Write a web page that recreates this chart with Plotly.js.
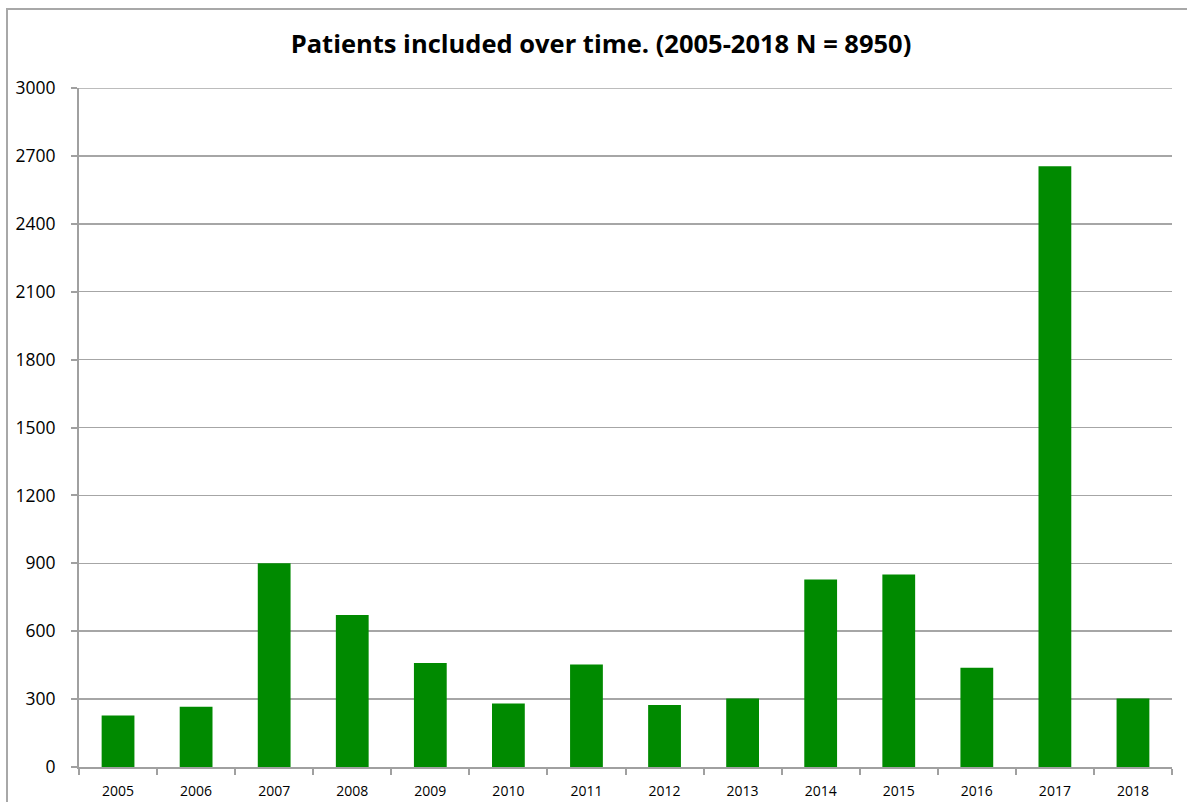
<!DOCTYPE html>
<html>
<head>
<meta charset="utf-8">
<script src="https://cdn.plot.ly/plotly-3.0.1.min.js"></script>
<style>
html,body{margin:0;padding:0;background:#fff;}
#chart{width:1187px;height:802px;}
</style>
</head>
<body>
<div id="chart"></div>
<script>
const years = ["2005","2006","2007","2008","2009","2010","2011","2012","2013","2014","2015","2016","2017","2018"];
const patients = [228, 266, 900, 672, 460, 281, 453, 274, 303, 828, 851, 438, 2654, 303];
const yTicks = [0, 300, 600, 900, 1200, 1500, 1800, 2100, 2400, 2700, 3000];
const chartTitle = "Patients included over time. (2005-2018 N = 8950)";
const yMax = yTicks[yTicks.length - 1];

const trace = {
  type: "bar",
  x: years,
  y: patients,
  marker: {color: "#008a00", line: {width: 0}},
  hoverinfo: "x+y"
};

const layout = {
  width: 1187,
  height: 802,
  margin: {l: 79, r: 15, t: 88, b: 35},
  paper_bgcolor: "#ffffff",
  plot_bgcolor: "#ffffff",
  showlegend: false,
  bargap: 0.58,
  font: {family: "Open Sans, sans-serif", color: "#000"},
  title: {
    text: "<b>" + chartTitle + "</b>",
    font: {family: "Open Sans, sans-serif", size: 25.5, color: "#000"},
    x: 601 / 1187, xanchor: "center", xref: "container",
    y: 49, yref: "container", yanchor: "middle"
  },
  xaxis: {
    type: "category",
    showline: true, linecolor: "#a0a0a0", linewidth: 2,
    ticks: "outside", tickson: "boundaries", ticklen: 6, tickcolor: "#a0a0a0", tickwidth: 2,
    showgrid: false,
    tickfont: {size: 14, color: "#000"},
    ticklabelstandoff: 10,
    fixedrange: true
  },
  yaxis: {
    range: [0, yMax],
    tickvals: yTicks,
    ticktext: yTicks.map(String),
    showline: true, linecolor: "#a0a0a0", linewidth: 2,
    ticks: "outside", ticklen: 6, tickcolor: "#a0a0a0", tickwidth: 2,
    showgrid: true, gridcolor: "#a6a6a6", gridwidth: 1.5,
    zeroline: false,
    tickfont: {size: 17.5, color: "#000"},
    ticklabelstandoff: 12,
    fixedrange: true
  },
  shapes: [{
    type: "rect", xref: "paper", yref: "paper",
    x0: (7 - 79) / 1093, x1: 1.02,
    y0: -0.08, y1: 1 + (88 - 9) / 679,
    line: {color: "#a8a8a8", width: 2},
    fillcolor: "rgba(0,0,0,0)",
    layer: "below"
  }, {
    type: "line", xref: "paper", yref: "y",
    x0: 0, x1: 1, y0: yMax, y1: yMax,
    line: {color: "#a6a6a6", width: 1.5},
    layer: "below"
  }]
};

Plotly.newPlot("chart", [trace], layout, {displayModeBar: false, staticPlot: true});
</script>
</body>
</html>
